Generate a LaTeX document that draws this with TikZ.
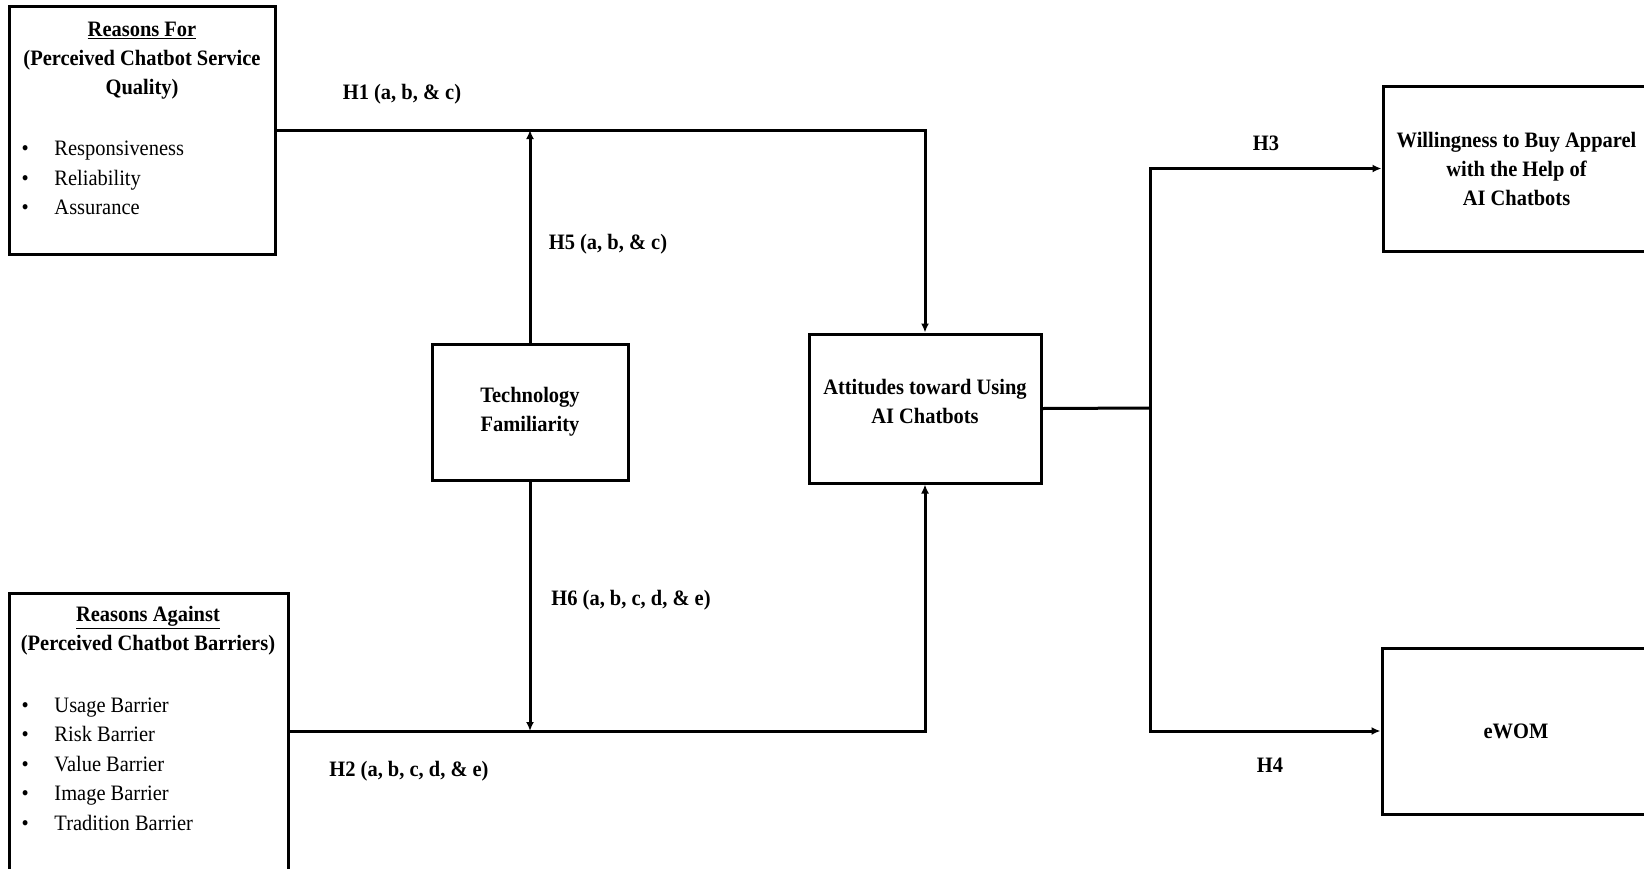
\documentclass[tikz,border=0pt]{standalone}
\usepackage{fontspec}
\setmainfont{Liberation Serif}[FakeStretch=0.93]
\usepackage{tikz}
\usetikzlibrary{arrows.meta,positioning}

\newcommand{\bulletitem}{\makebox[33pt][l]{\textbullet}}

\begin{document}
\begin{tikzpicture}[x=1pt,y=-1pt,line width=3pt,
                    >={Latex[length=9pt,width=8pt]},
                    main node/.style={rectangle,draw,inner sep=0pt,align=center,font=\fontsize{22}{29}\selectfont\bfseries},
                    hyp/.style={font=\fontsize{22}{29}\selectfont\bfseries},
                    item list/.style={anchor=west,align=left,inner sep=0pt,font=\fontsize{22}{29.5}\selectfont}]

 \useasboundingbox (0,0) rectangle (1644,868);

 \node[main node,minimum width=266pt,minimum height=248pt] (rf) at (142,130) {};

 \node[hyp,align=center] (rftitle) at (142,61) {\underline{Reasons For}\\(Perceived Chatbot Service\\Quality)};

 \node[item list] (rflist) at (20,178) {\bulletitem Responsiveness\\ \bulletitem Reliability\\ \bulletitem Assurance};

 \node[main node,minimum width=279pt,minimum height=296pt] (ra) at (148.5,741) {};

 \node[hyp,align=center] (ratitle) at (148,631) {\underline{Reasons Against}\\(Perceived Chatbot Barriers)};

 \node[item list] (ralist) at (20,764) {\bulletitem Usage Barrier\\ \bulletitem Risk Barrier\\ \bulletitem Value Barrier\\ \bulletitem Image Barrier\\ \bulletitem Tradition Barrier};

 \node[main node,minimum width=196pt,minimum height=136pt] (tf) at (530,412) {Technology\\Familiarity};

 \node[main node,minimum width=232pt,minimum height=149pt,text depth=14pt] (att) at (925,408.5) {Attitudes toward Using\\AI Chatbots};

 \node[main node,minimum width=267pt,minimum height=165pt] (wb) at (1516.5,168.5) {Willingness to Buy Apparel\\with the Help of\\AI Chatbots};

 \node[main node,minimum width=268pt,minimum height=166pt] (ew) at (1516,731) {eWOM};

 \coordinate (h2y) at (0,731);
 \coordinate (hub) at (1150,408);

 \draw[->] (rf.east) -| (att.north);
 \draw[->] (ra.east |- h2y) -| (att.south);
 \draw[->] (tf.north) -- (tf.north |- rf.east);
 \draw[->] (tf.south) -- (tf.south |- h2y);
 \draw (att.east) -- (hub);
 \draw[->] (hub) |- (wb.west);
 \draw[->] (hub) |- (ew.west);

 \node[hyp] (h1) at (402,94) {H1 (a, b, \& c)};
 \node[hyp] (h5) at (608,244) {H5 (a, b, \& c)};
 \node[hyp] (h6) at (631,600) {H6 (a, b, c, d, \& e)};
 \node[hyp] (h2) at (409,771) {H2 (a, b, c, d, \& e)};
 \node[hyp] (h3) at (1266,143) {H3};
 \node[hyp] (h4) at (1270,765) {H4};

\end{tikzpicture}
\end{document}
